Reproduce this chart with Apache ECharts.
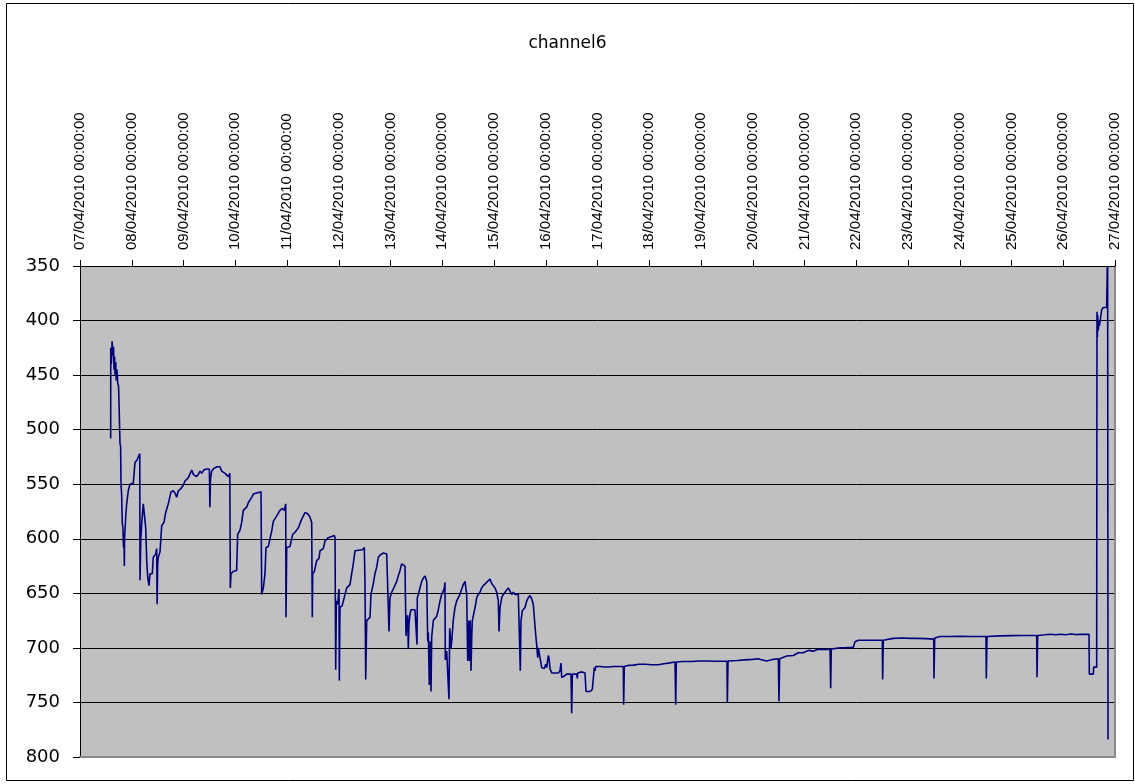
<!DOCTYPE html>
<html>
<head>
<meta charset="utf-8">
<title>channel6</title>
<script src="https://cdn.jsdelivr.net/npm/echarts@6/dist/echarts.min.js"></script>
<style>
  html, body { margin: 0; padding: 0; background: #ffffff; }
  #chart { width: 1135px; height: 784px; }
</style>
</head>
<body>
<div id="chart"></div>
<script>
// Logger start: 07/04/2010 00:00:00 (UTC); samples are given as elapsed days since then.
const START = Date.UTC(2010, 3, 7);
const DAY = 86400000;

// Day tick labels along the top axis
const dayTicks = [
  '07/04/2010 00:00:00', '08/04/2010 00:00:00', '09/04/2010 00:00:00', '10/04/2010 00:00:00',
  '11/04/2010 00:00:00', '12/04/2010 00:00:00', '13/04/2010 00:00:00', '14/04/2010 00:00:00',
  '15/04/2010 00:00:00', '16/04/2010 00:00:00', '17/04/2010 00:00:00', '18/04/2010 00:00:00',
  '19/04/2010 00:00:00', '20/04/2010 00:00:00', '21/04/2010 00:00:00', '22/04/2010 00:00:00',
  '23/04/2010 00:00:00', '24/04/2010 00:00:00', '25/04/2010 00:00:00', '26/04/2010 00:00:00',
  '27/04/2010 00:00:00'
];

// Value axis range
const yMin = 350;
const yMax = 800;
const yStep = 50;

// Elapsed time of each reading (days since start)
const elapsedDays = [
  0.593, 0.594, 0.605, 0.615, 0.620, 0.632, 0.640, 0.648, 0.658, 0.668, 0.678, 0.690, 0.700, 0.715, 0.730, 0.745,
  0.754, 0.765, 0.773, 0.785, 0.792, 0.805, 0.817, 0.830, 0.840, 0.850, 0.857, 0.862, 0.872, 0.885, 0.902, 0.933,
  0.966, 1.030, 1.045, 1.063, 1.100, 1.127, 1.155, 1.160, 1.175, 1.192, 1.223, 1.256, 1.270, 1.289, 1.308, 1.333,
  1.353, 1.397, 1.416, 1.463, 1.482, 1.490, 1.501, 1.513, 1.546, 1.579, 1.623, 1.656, 1.706, 1.758, 1.800, 1.836,
  1.868, 1.900, 1.950, 1.996, 2.029, 2.060, 2.093, 2.130, 2.158, 2.190, 2.222, 2.250, 2.286, 2.320, 2.352, 2.390,
  2.415, 2.448, 2.500, 2.510, 2.522, 2.545, 2.576, 2.610, 2.642, 2.680, 2.705, 2.738, 2.770, 2.802, 2.835, 2.866,
  2.895, 2.905,
  2.918, 2.960, 3.027, 3.047, 3.092, 3.124, 3.156, 3.221, 3.252, 3.317, 3.349, 3.414, 3.498, 3.511, 3.543, 3.575,
  3.594, 3.639, 3.671, 3.704, 3.736, 3.801, 3.865, 3.910, 3.949, 3.975, 3.981, 3.994, 4.058, 4.090, 4.110, 4.155,
  4.218, 4.284, 4.348, 4.400, 4.444, 4.477, 4.489, 4.496, 4.528, 4.574, 4.618, 4.638, 4.702, 4.734, 4.798, 4.864,
  4.914, 4.928, 4.941, 4.953, 4.980, 5.005, 5.011, 5.024, 5.069, 5.121, 5.154, 5.217, 5.250, 5.281, 5.314, 5.347,
  5.455, 5.494, 5.507, 5.521, 5.540, 5.604, 5.623, 5.668, 5.700, 5.733, 5.764, 5.797, 5.861, 5.927, 5.957, 5.971,
  5.990, 6.023, 6.055, 6.087, 6.120, 6.151, 6.184, 6.216, 6.248, 6.280, 6.300, 6.313, 6.332, 6.344, 6.357, 6.377,
  6.396, 6.473, 6.506, 6.512, 6.518, 6.537, 6.570, 6.603, 6.634, 6.667, 6.700, 6.719, 6.731, 6.750, 6.769, 6.783,
  6.796, 6.827, 6.860, 6.893, 6.924, 6.957, 6.989, 7.020, 7.040, 7.053, 7.059, 7.086, 7.117, 7.130, 7.144, 7.169,
  7.183, 7.214, 7.246, 7.279, 7.310, 7.343, 7.376, 7.407, 7.440, 7.459, 7.472, 7.492, 7.503, 7.515, 7.528, 7.540,
  7.556, 7.570, 7.581, 7.620, 7.646, 7.666, 7.697, 7.729, 7.762, 7.793, 7.826, 7.858, 7.890, 7.923, 7.956, 7.987,
  8.019, 8.052, 8.083, 8.097, 8.116, 8.149, 8.180, 8.213, 8.246, 8.276, 8.309, 8.342, 8.373, 8.405, 8.439, 8.470,
  8.502, 8.508, 8.522, 8.547, 8.599, 8.632, 8.663, 8.696, 8.728, 8.759, 8.792, 8.806, 8.825, 8.844, 8.856, 8.889,
  8.922, 8.972, 9.000, 9.018, 9.049, 9.063, 9.082,
  9.115, 9.180, 9.243, 9.275, 9.295, 9.308, 9.350, 9.404, 9.488, 9.501, 9.514, 9.598, 9.611, 9.617, 9.700, 9.758,
  9.778, 9.855, 9.900, 9.919, 9.938, 9.952, 9.965, 10.050, 10.130, 10.209, 10.300, 10.400, 10.499, 10.506, 10.518, 10.600,
  10.692, 10.800, 10.918, 11.050, 11.175, 11.280, 11.368, 11.498, 11.511, 11.523, 11.650, 11.820, 11.950, 12.077, 12.300, 12.502,
  12.509, 12.522, 12.700, 12.850, 13.000, 13.108, 13.150,
  13.269, 13.397, 13.494, 13.507, 13.520, 13.655, 13.784, 13.880, 13.977, 14.073, 14.170, 14.250, 14.332, 14.493, 14.506, 14.518,
  14.686, 14.800, 14.943, 14.976, 15.040, 15.266, 15.504, 15.510, 15.523, 15.716, 15.900, 16.050, 16.168, 16.350, 16.497, 16.502,
  16.516, 16.618, 16.800, 17.000, 17.198, 17.350, 17.507, 17.513, 17.527, 17.778,
  18.000, 18.200, 18.487, 18.493, 18.506, 18.647, 18.750, 18.850, 18.950, 19.050, 19.150, 19.250, 19.350, 19.498, 19.504, 19.581,
  19.588, 19.646, 19.652, 19.660, 19.665, 19.677, 19.690, 19.697, 19.720, 19.743, 19.774, 19.839, 19.850, 19.858, 19.865
];

// channel6 readings, one per entry above
const channel6 = [
  508, 425, 440, 430, 419, 419, 432, 424, 445, 433, 450, 438, 455, 445, 458, 460,
  475, 475, 513, 515, 549, 560, 586, 590, 608, 600, 625, 598, 590, 578, 568, 556,
  550, 549, 540, 530, 528, 527, 522, 638, 600, 586, 568, 568, 590, 620, 635, 643,
  632, 632, 617, 614, 609, 660, 623, 617, 612, 588, 585, 576, 568, 557, 556, 558,
  562, 556, 554, 551, 547, 546, 544, 540, 537, 541, 540, 543, 541, 538, 540, 537,
  538, 536, 536, 571, 545, 538, 536, 535, 534, 535, 534, 538, 537, 540, 539, 543,
  540, 645,
  632, 630, 629, 596, 592, 585, 574, 571, 567, 562, 559, 558, 557, 651, 645, 632,
  608, 607, 608, 593, 584, 579, 574, 572, 574, 568, 672, 608, 607, 608, 596, 594,
  590, 582, 576, 577, 580, 585, 672, 632, 630, 620, 618, 611, 609, 602, 599, 598,
  597, 599, 720, 657, 660, 646, 730, 663, 661, 651, 645, 642, 632, 623, 611, 611,
  610, 608, 641, 729, 675, 672, 651, 641, 632, 626, 617, 615, 613, 614, 615, 685,
  654, 649, 646, 645, 639, 634, 629, 623, 622, 625, 689, 678, 670, 701, 678, 669,
  665, 665, 665, 697, 654, 651, 645, 639, 636, 634, 639, 694, 686, 734, 694, 740,
  690, 675, 674, 671, 665, 657, 651, 648, 645, 640, 711, 703, 704, 747, 682, 700,
  694, 674, 663, 657, 654, 651, 646, 642, 639, 639, 651, 712, 700, 675, 712, 675,
  721, 690, 675, 666, 660, 654, 651, 649, 645, 643, 642, 640, 639, 637, 641, 640,
  645, 649, 657, 685, 663, 654, 651, 649, 648, 645, 648, 651, 649, 651, 650, 651,
  651, 721, 675, 666, 663, 657, 654, 652, 655, 660, 661, 688, 697, 709, 700, 701,
  718, 719, 715, 718, 707, 709, 719,
  723, 723, 723, 721, 714, 727, 726, 724, 724, 760, 724, 724, 728, 723, 722, 723,
  740, 740, 738, 737, 718, 721, 717, 717, 717.5, 717.5, 717, 717, 717, 752, 717, 716,
  715.8, 715, 715, 715.5, 715.5, 714.5, 714, 713, 752, 713, 712.5, 712.5, 712, 712, 712.3, 712.3,
  750, 712, 711.5, 711, 710.5, 710, 710.6,
  712, 710.5, 710, 749, 710, 707.5, 707, 704.5, 704.5, 702.3, 703, 701.5, 701.4, 701.4, 737, 701,
  700, 699.8, 699.5, 694.4, 693, 693, 693, 729, 693, 691.3, 691, 691.3, 691.3, 691.5, 692, 728,
  691, 689.5, 689.5, 689.4, 689.5, 689.5, 689.5, 728, 689.5, 689,
  688.8, 688.7, 688.6, 727, 688.6, 688, 687.5, 688, 687.5, 688, 687.3, 687.8, 687.5, 687.6, 724, 724,
  717.6, 717.6, 392, 415, 395, 409, 400, 405, 398, 390, 388, 388, 352, 350, 784
];

const seriesData = elapsedDays.map((d, i) => [START + d * DAY, channel6[i]]);

const chart = echarts.init(document.getElementById('chart'), null, { renderer: 'canvas' });

const labelFont = 'Liberation Sans, Arial, sans-serif';
const wideFont = 'DejaVu Sans, Verdana, sans-serif';

chart.setOption({
  animation: false,
  backgroundColor: '#ffffff',
  title: {
    text: 'channel6',
    left: 'center',
    top: 30,
    textStyle: { fontFamily: wideFont, fontSize: 17, fontWeight: 'normal', color: '#000' }
  },
  grid: {
    left: 80, right: 20, top: 266, bottom: 27,
    show: true,
    backgroundColor: '#C0C0C0',
    borderWidth: 0
  },
  xAxis: [
    {
      type: 'value',
      position: 'top',
      min: START,
      max: START + (dayTicks.length - 1) * DAY,
      interval: DAY,
      axisLine: { show: true, lineStyle: { color: '#000', width: 1 } },
      axisTick: { show: true, length: 6, lineStyle: { color: '#000' } },
      axisLabel: {
        rotate: -90,
        margin: 16,
        color: '#000',
        fontFamily: labelFont,
        fontSize: 15,
        showMinLabel: true,
        showMaxLabel: true,
        formatter: v => dayTicks[Math.round((v - START) / DAY)]
      },
      splitLine: { show: false }
    },
    {
      type: 'value',
      position: 'bottom',
      min: START,
      max: START + (dayTicks.length - 1) * DAY,
      interval: DAY,
      axisLine: { show: true, lineStyle: { color: '#8a8a8a', width: 2 } },
      axisTick: { show: false },
      axisLabel: { show: false },
      splitLine: { show: false }
    }
  ],
  yAxis: [
    {
      type: 'value',
      inverse: true,
      min: yMin,
      max: yMax,
      interval: yStep,
      axisLine: { show: true, lineStyle: { color: '#000', width: 1 } },
      axisTick: { show: true, length: 7, lineStyle: { color: '#000' } },
      axisLabel: {
        margin: 20,
        color: '#000',
        fontFamily: wideFont,
        fontSize: 18
      },
      splitLine: { show: true, lineStyle: { color: '#000', width: 1 } }
    },
    {
      type: 'value',
      position: 'right',
      inverse: true,
      min: yMin,
      max: yMax,
      interval: yStep,
      axisLine: { show: true, lineStyle: { color: '#8a8a8a', width: 2 } },
      axisTick: { show: false },
      axisLabel: { show: false },
      splitLine: { show: false }
    }
  ],
  graphic: [
    {
      type: 'rect',
      silent: true,
      z: 100,
      shape: { x: 6.5, y: 3.5, width: 1127, height: 777 },
      style: { fill: 'none', stroke: '#000', lineWidth: 1 }
    }
  ],
  series: [
    {
      name: 'channel6',
      type: 'line',
      xAxisIndex: 0,
      yAxisIndex: 0,
      data: seriesData,
      showSymbol: false,
      sampling: null,
      lineStyle: { color: '#000080', width: 1.6 },
      clip: true
    }
  ]
});
</script>
</body>
</html>
